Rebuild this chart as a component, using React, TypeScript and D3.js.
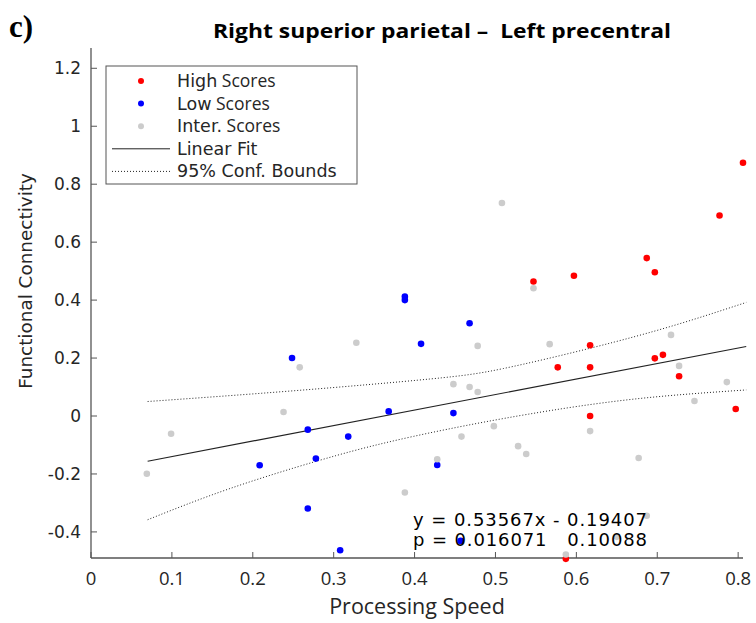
import React from "react";
import * as d3 from "d3";

// ---- data ----
const highX = [0.806, 0.777, 0.687, 0.697, 0.547, 0.597, 0.617, 0.697, 0.707, 0.577, 0.617, 0.727, 0.797, 0.617, 0.587];
const highY = [0.874, 0.692, 0.545, 0.496, 0.464, 0.484, 0.244, 0.199, 0.211, 0.168, 0.168, 0.137, 0.024, 0.000, -0.493];

const lowX = [0.388, 0.388, 0.468, 0.408, 0.2485, 0.2085, 0.268, 0.278, 0.318, 0.368, 0.268, 0.308, 0.448, 0.428, 0.457];
const lowY = [0.412, 0.400, 0.320, 0.249, 0.200, -0.170, -0.047, -0.147, -0.071, 0.016, -0.319, -0.463, 0.010, -0.169, -0.431];

const interX = [0.508, 0.547, 0.478, 0.567, 0.717, 0.727, 0.328, 0.258, 0.238, 0.099, 0.069, 0.388, 0.786, 0.746, 0.448, 0.468, 0.478, 0.617, 0.498, 0.458, 0.528, 0.538, 0.677, 0.428, 0.687, 0.587, 0.650];
const interY = [0.735, 0.441, 0.242, 0.248, 0.280, 0.173, 0.253, 0.168, 0.014, -0.061, -0.199, -0.264, 0.117, 0.052, 0.110, 0.100, 0.083, -0.052, -0.035, -0.071, -0.104, -0.131, -0.145, -0.149, -0.344, -0.478, -0.417];

const fitX = [0.07, 0.81];
const fitY = [-0.156, 0.240];

const upperX = [0.07, 0.25, 0.42, 0.51, 0.62, 0.72, 0.81];
const upperY = [0.050, 0.087, 0.128, 0.164, 0.236, 0.312, 0.392];
const lowerX = [0.07, 0.17, 0.28, 0.36, 0.44, 0.54, 0.67, 0.81];
const lowerY = [-0.358, -0.252, -0.155, -0.095, -0.046, 0.006, 0.058, 0.090];

const xTicks = [0, 0.1, 0.2, 0.3, 0.4, 0.5, 0.6, 0.7, 0.8];
const yTicks = [-0.4, -0.2, 0, 0.2, 0.4, 0.6, 0.8, 1, 1.2];

const legendItems = [
  { first: "High", rest: " Scores", kind: "dot", color: "#ff0000" },
  { first: "Low", rest: " Scores", kind: "dot", color: "#0000ff" },
  { first: "Inter.", rest: " Scores", kind: "dot", color: "#cccccc" },
  { first: "Linear Fit", rest: "", kind: "line", color: "#222" },
  { first: "95% Conf. Bounds", rest: "", kind: "dotted", color: "#222" },
];

const titleText = "Right superior parietal \u2013  Left precentral";
const eqLine1 = "y = 0.53567x - 0.19407";
const eqLine2 = "p = 0.016071   0.10088";

export default function App() {
  const W = 756, H = 623;
  const x = d3.scaleLinear().domain([0, 0.806]).range([91, 743]);
  const y = d3.scaleLinear().domain([-0.49, 1.27]).range([558, 48]);

  const lineGen = d3.line<[number, number]>().x(d => x(d[0])).y(d => y(d[1]));
  const curveGen = d3.line<[number, number]>().x(d => x(d[0])).y(d => y(d[1])).curve(d3.curveNatural);

  const fitPts = fitX.map((v, i) => [v, fitY[i]] as [number, number]);
  const upPts = upperX.map((v, i) => [v, upperY[i]] as [number, number]);
  const loPts = lowerX.map((v, i) => [v, lowerY[i]] as [number, number]);

  const axisColor = "#555";
  const textColor = "#262626";
  const r = 3.3;

  const dots = (xs: number[], ys: number[], color: string, key: string) =>
    xs.map((v, i) => <circle key={key + i} cx={x(v)} cy={y(ys[i])} r={r} fill={color} />);

  return (
    <svg width={W} height={H} style={{ position: "absolute", left: 0, top: 0, background: "#fff" }}>
      <rect x={0} y={0} width={W} height={H} fill="#fff" />
      {/* panel label */}
      <text x={9} y={37} fontFamily="'Liberation Serif', 'DejaVu Serif', serif" fontWeight="bold" fontSize={31} fill="#000">c)</text>
      {/* title */}
      <text x={442} y={38} textAnchor="middle" fontFamily="'Open Sans', sans-serif" fontWeight="bold" fontSize={19.5} fill="#000"
        textLength={458} lengthAdjust="spacingAndGlyphs" style={{ whiteSpace: "pre" }}>{titleText}</text>

      {/* axes */}
      <line x1={91} y1={48} x2={91} y2={558} stroke={axisColor} strokeWidth={1.3} />
      <line x1={91} y1={558} x2={743} y2={558} stroke={axisColor} strokeWidth={1.3} />
      {xTicks.map(t => (
        <g key={"xt" + t}>
          <line x1={x(t)} x2={x(t)} y1={558} y2={552} stroke={axisColor} strokeWidth={1} />
          <text x={x(t)} y={585} textAnchor="middle" fontFamily="'Open Sans', sans-serif" fontSize={18.5} fill={textColor}>{String(t)}</text>
        </g>
      ))}
      {yTicks.map(t => (
        <g key={"yt" + t}>
          <line x1={91} x2={97} y1={y(t)} y2={y(t)} stroke={axisColor} strokeWidth={1} />
          <text x={81} y={y(t)} dy="0.36em" textAnchor="end" fontFamily="'DejaVu Sans', sans-serif" fontSize={17} fill={textColor}>{String(t)}</text>
        </g>
      ))}
      <text x={417} y={614} textAnchor="middle" fontFamily="'Open Sans', sans-serif" fontSize={21.5} fill={textColor}>Processing Speed</text>
      <text transform="translate(32,281) rotate(-90)" textAnchor="middle" fontFamily="'DejaVu Sans', sans-serif" fontSize={18.4} fill={textColor}>Functional Connectivity</text>

      {/* fit + bounds */}
      <path d={curveGen(upPts) || ""} fill="none" stroke="#222" strokeWidth={1} strokeDasharray="1,2" />
      <path d={curveGen(loPts) || ""} fill="none" stroke="#222" strokeWidth={1} strokeDasharray="1,2" />
      <path d={lineGen(fitPts) || ""} fill="none" stroke="#222" strokeWidth={1.2} />

      {/* points */}
      {dots(highX, highY, "#ff0000", "h")}
      {dots(lowX, lowY, "#0000ff", "l")}
      {dots(interX, interY, "#cccccc", "i")}

      {/* equation text */}
      <text x={413} y={526} fontFamily="'DejaVu Sans', sans-serif" fontSize={18} fill="#000" textLength={234} style={{ whiteSpace: "pre" }}>{eqLine1}</text>
      <text x={413} y={546} fontFamily="'DejaVu Sans', sans-serif" fontSize={18} fill="#000" textLength={234} style={{ whiteSpace: "pre" }}>{eqLine2}</text>

      {/* legend */}
      <rect x={106} y={66} width={251} height={118} fill="#fff" stroke="#555" strokeWidth={1} />
      {legendItems.map((it, i) => {
        const cy = 81 + i * 22.6;
        return (
          <g key={"lg" + i}>
            {it.kind === "dot" && <circle cx={141} cy={cy} r={3} fill={it.color} />}
            {it.kind === "line" && <line x1={112} x2={170} y1={cy} y2={cy} stroke="#222" strokeWidth={1} />}
            {it.kind === "dotted" && <line x1={112} x2={170} y1={cy} y2={cy} stroke="#222" strokeWidth={1} strokeDasharray="1,2" />}
            <text x={177} y={cy + 6} fontFamily="'DejaVu Sans', sans-serif" fontSize={17.5} fill={textColor}>
              {it.first}
              {it.rest && <tspan fontFamily="'Open Sans', sans-serif" fontSize={17.5}>{it.rest}</tspan>}
            </text>
          </g>
        );
      })}
    </svg>
  );
}
